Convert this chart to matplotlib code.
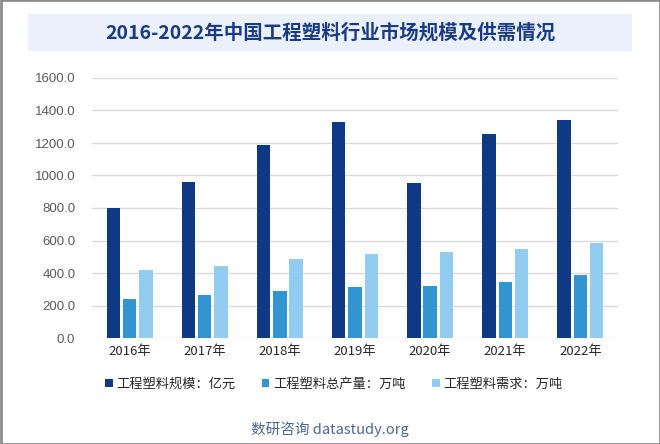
import matplotlib
matplotlib.use("Agg")
import matplotlib.pyplot as plt
from matplotlib.patches import Rectangle
import numpy as np

plt.rcParams['font.family'] = ['Noto Sans CJK SC', 'DejaVu Sans']

years = ["2016年", "2017年", "2018年", "2019年", "2020年", "2021年", "2022年"]
scale = [800, 960, 1188, 1329, 954, 1255, 1341]
output = [240, 265, 289, 314, 320, 345, 388]
demand = [418, 443, 486, 517, 529, 548, 585]
series_names = ["工程塑料规模：亿元", "工程塑料总产量：万吨", "工程塑料需求：万吨"]
colors = ["#0f3885", "#3295d2", "#92cdf1"]
yticks = [0, 200, 400, 600, 800, 1000, 1200, 1400, 1600]

fig = plt.figure(figsize=(6.6, 4.44), dpi=100)
W, H = 660, 444

# outer border
fig.patches.append(Rectangle((0.5 / W, 0.5 / H), 1 - 1.0 / W, 1 - 1.0 / H,
                             transform=fig.transFigure, fill=False,
                             edgecolor="#8c8c8c", linewidth=2, zorder=0))
# title box
fig.patches.append(Rectangle((28 / W, 1 - 51 / H), (632 - 28) / W, 37 / H,
                             transform=fig.transFigure, facecolor="#eaf1fc",
                             edgecolor="none", zorder=0))
fig.text(330 / W, 1 - 33 / H, "2016-2022年中国工程塑料行业市场规模及供需情况",
         ha="center", va="center", fontsize=14, fontweight="bold", color="#1a3a82")

ax = fig.add_axes([92 / W, 1 - 338 / H, (618 - 92) / W, (338 - 78) / H])
x = np.arange(len(years))
bw = 0.18
off = 0.217
for i, (vals, c, name) in enumerate(zip([scale, output, demand], colors, series_names)):
    ax.bar(x + (i - 1) * off, vals, width=bw, color=c, label=name, zorder=3)

ax.set_xlim(-0.5, len(years) - 0.5)
ax.set_ylim(0, 1600)
ax.set_yticks(yticks)
ax.set_yticklabels([f"{v:.1f}" for v in yticks], fontsize=9.5, color="#595959",
                   family=['Liberation Sans', 'DejaVu Sans'])
ax.set_xticks(x)
ax.set_xticklabels(years, fontsize=9.5, color="#262626")
ax.tick_params(axis="both", length=0)
ax.tick_params(axis="y", pad=12)
ax.tick_params(axis="x", pad=5)
ax.grid(axis="y", color="#d9d9d9", linewidth=1, zorder=0)
for s in ax.spines.values():
    s.set_visible(False)

leg = fig.legend(loc="center", bbox_to_anchor=(334 / W, 1 - 384 / H), ncol=3,
                 frameon=False, fontsize=9.5, handlelength=0.55, handleheight=0.55,
                 handletextpad=0.3, columnspacing=2.0)
for t in leg.get_texts():
    t.set_color("#262626")

fig.text(330 / W, 1 - 429 / H, "数研咨询 datastudy.org", ha="center", va="center",
         fontsize=10.5, color="#4a6890")

fig.savefig("out.png", dpi=100)
